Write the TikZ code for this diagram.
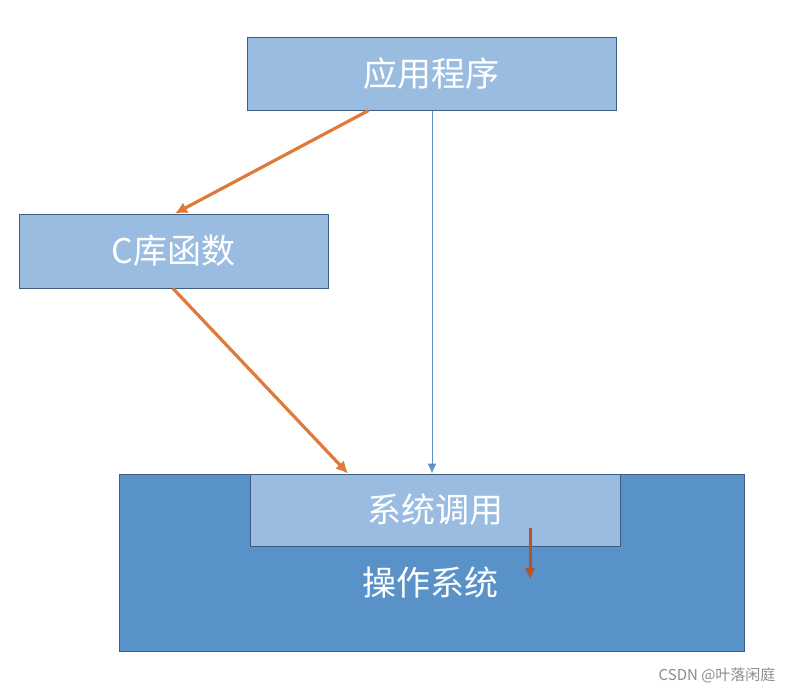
\documentclass[tikz,border=0pt]{standalone}
\usepackage{fontspec}
\newfontfamily\cjk{Noto Sans CJK SC}
\usetikzlibrary{positioning,arrows.meta}
\definecolor{lightbox}{RGB}{155,188,225}
\definecolor{darkbox}{RGB}{88,146,201}
\definecolor{boxline}{RGB}{63,93,132}
\definecolor{callline}{RGB}{224,122,58}
\definecolor{directline}{RGB}{92,143,203}
\definecolor{osline}{RGB}{181,82,43}
\tikzset{
  block/.style={rectangle,draw=boxline,line width=1pt,fill=lightbox,text=white,font=\cjk\fontsize{34}{38}\selectfont,inner sep=0pt},
  osblock/.style={rectangle,draw=boxline,line width=1pt,fill=darkbox,inner sep=0pt},
  call/.style={draw=callline,line width=3.2pt,-{Latex[length=12pt,width=12pt]}},
  direct/.style={draw=directline,line width=1pt,-{Latex[length=10pt,width=9pt]}},
  inner/.style={draw=osline,line width=3pt,-{Latex[length=11pt,width=11pt]}},
}
\begin{document}
\begin{tikzpicture}[x=1pt,y=-1pt]
\useasboundingbox[fill=white] (0,0) rectangle (794,693);

  \node[osblock,minimum width=625pt,minimum height=177pt] (os) at (431.5,562.5) {};
  \node[block,minimum width=370pt,minimum height=72pt] (syscall) at (435,510) {系统调用};
  \node[text=white,font=\cjk\fontsize{34}{38}\selectfont] (oslabel) at (430,583) {操作系统};
  \node[block,minimum width=369pt,minimum height=72pt] (app) at (431.5,74) {应用程序};
  \node[block,minimum width=309pt,minimum height=74pt] (clib) at (173.5,251) {C库函数};

  \path[call] ([xshift=-63pt]app.south) -- ([xshift=1.5pt]clib.north);
  \path[call] ([xshift=-0.5pt]clib.south) -- ([xshift=-87pt]syscall.north);
  \path[direct] ([xshift=0.5pt]app.south) -- ([xshift=-3pt]syscall.north);
  \coordinate (osin) at (530,579);
  \path[inner] ([xshift=95pt,yshift=19pt]syscall.south) -- (osin);

  \node[text=black!45,font=\cjk\fontsize{15}{18}\selectfont,anchor=east] (mark) at (779,675) {CSDN @叶落闲庭};
\end{tikzpicture}
\end{document}
